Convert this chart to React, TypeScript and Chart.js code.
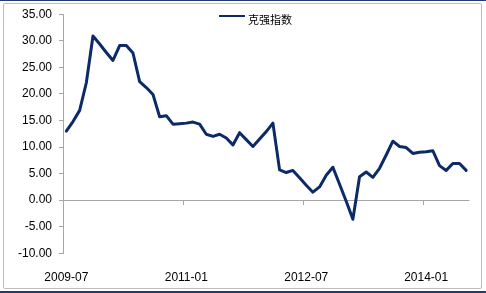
import React, { useEffect, useRef } from "react";
import { Chart, registerables } from "chart.js";

Chart.register(...registerables);

const months: string[] = [
  "2009-07","2009-08","2009-09","2009-10","2009-11","2009-12",
  "2010-01","2010-02","2010-03","2010-04","2010-05","2010-06",
  "2010-07","2010-08","2010-09","2010-10","2010-11","2010-12",
  "2011-01","2011-02","2011-03","2011-04","2011-05","2011-06",
  "2011-07","2011-08","2011-09","2011-10","2011-11","2011-12",
  "2012-01","2012-02","2012-03","2012-04","2012-05","2012-06",
  "2012-07","2012-08","2012-09","2012-10","2012-11","2012-12",
  "2013-01","2013-02","2013-03","2013-04","2013-05","2013-06",
  "2013-07","2013-08","2013-09","2013-10","2013-11","2013-12",
  "2014-01","2014-02","2014-03","2014-04","2014-05","2014-06",
  "2014-07",
];

const keqiangIndex: number[] = [
  13.0, 14.8, 16.9, 22.1, 30.9, 29.4, 27.8, 26.3, 29.1, 29.1,
  27.7, 22.3, 21.2, 19.9, 15.7, 15.9, 14.3, 14.4, 14.5, 14.7,
  14.3, 12.4, 12.0, 12.4, 11.7, 10.4, 12.7, 11.4, 10.1, 11.5,
  12.9, 14.5, 5.7, 5.2, 5.6, 4.2, 2.8, 1.5, 2.5, 4.7,
  6.2, 3.0, -0.2, -3.6, 4.4, 5.3, 4.3, 6.0, 8.5, 11.1,
  10.1, 9.9, 8.8, 9.0, 9.1, 9.3, 6.5, 5.6, 6.9, 6.9,
  5.6,
];

const shownLabelEvery = 18;
const seriesName = "克强指数";
const yMin = -10;
const yMax = 35;
const yStep = 5;

const LINE_COLOR = "#0c2a67";
const AXIS_COLOR = "#a6a6a6";

export default function App() {
  const ref = useRef<HTMLCanvasElement | null>(null);

  useEffect(() => {
    document.body.style.margin = "0";
    const canvas = ref.current;
    if (!canvas) return;

    const axisPlugin = {
      id: "zeroAxis",
      beforeDatasetsDraw(chart: any) {
        const { ctx, chartArea, scales } = chart;
        const y0 = scales.y.getPixelForValue(0);
        ctx.save();
        ctx.strokeStyle = AXIS_COLOR;
        ctx.lineWidth = 1;
        ctx.beginPath();
        ctx.moveTo(chartArea.left, Math.round(y0) + 0.5);
        ctx.lineTo(chartArea.right, Math.round(y0) + 0.5);
        for (let i = shownLabelEvery; i < months.length; i += shownLabelEvery) {
          const x =
            (scales.x.getPixelForValue(i - 1) + scales.x.getPixelForValue(i)) / 2;
          ctx.moveTo(Math.round(x) + 0.5, Math.round(y0));
          ctx.lineTo(Math.round(x) + 0.5, Math.round(y0) + 5);
        }
        ctx.stroke();
        ctx.restore();
      },
      afterDraw(chart: any) {
        const { ctx } = chart;
        ctx.save();
        ctx.strokeStyle = LINE_COLOR;
        ctx.lineWidth = 2;
        ctx.beginPath();
        ctx.moveTo(219, 16);
        ctx.lineTo(245, 16);
        ctx.stroke();
        ctx.fillStyle = "#000";
        ctx.font = '11px "Noto Sans CJK SC"';
        ctx.textBaseline = "middle";
        ctx.textAlign = "left";
        ctx.fillText(seriesName, 248, 19.5);
        ctx.restore();
      },
    };

    const chart = new Chart(canvas, {
      type: "line",
      data: {
        labels: months,
        datasets: [
          {
            label: seriesName,
            data: keqiangIndex,
            borderColor: LINE_COLOR,
            backgroundColor: LINE_COLOR,
            borderWidth: 3,
            pointRadius: 0,
            tension: 0,
            borderJoinStyle: "round",
            borderCapStyle: "round",
            fill: false,
          },
        ],
      },
      options: {
        animation: false,
        responsive: false,
        events: [],
        layout: { padding: { top: 10.3, right: 16.5, bottom: 0, left: 0 } },
        plugins: {
          legend: { display: false },
          tooltip: { enabled: false },
        },
        scales: {
          x: {
            type: "category",
            offset: true,
            grid: { display: false, drawTicks: false },
            border: { display: false },
            ticks: {
              autoSkip: false,
              maxRotation: 0,
              minRotation: 0,
              padding: 17,
              color: "#000",
              font: { family: '"Liberation Sans", Arial, sans-serif', size: 12 },
              callback: (_v: any, i: number) =>
                i % shownLabelEvery === 0 ? months[i] : "",
            },
            afterFit: (s: any) => {
              s.height = 293 - 253.3;
            },
          },
          y: {
            min: yMin,
            max: yMax,
            grid: {
              display: true,
              drawOnChartArea: false,
              drawTicks: true,
              tickLength: 4,
              color: AXIS_COLOR,
            },
            border: { display: true, color: AXIS_COLOR },
            ticks: {
              stepSize: yStep,
              padding: 7,
              color: "#000",
              font: { family: '"Liberation Sans", Arial, sans-serif', size: 12 },
              callback: (v: any) => Number(v).toFixed(2),
            },
            afterFit: (s: any) => {
              s.width = 63;
            },
          },
        },
      },
      plugins: [axisPlugin],
    });

    return () => chart.destroy();
  }, []);

  return (
    <div
      style={{
        position: "relative",
        width: 486,
        height: 293,
        background: "#fff",
        overflow: "hidden",
      }}
    >
      <div
        style={{
          position: "absolute",
          left: 0,
          top: 0,
          width: 486,
          height: 1,
          background: "#1f3d73",
        }}
      />
      <div
        style={{
          position: "absolute",
          left: 0,
          top: 291,
          width: 486,
          height: 2,
          background: "#1f3d73",
        }}
      />
      <div
        style={{
          position: "absolute",
          left: 3,
          top: 3,
          width: 477,
          height: 284,
          border: "1px solid #bcbcbc",
          borderRadius: 2,
        }}
      />
      <canvas
        ref={ref}
        width={486}
        height={293}
        style={{ position: "absolute", left: 0, top: 0, width: 486, height: 293 }}
      />
    </div>
  );
}
